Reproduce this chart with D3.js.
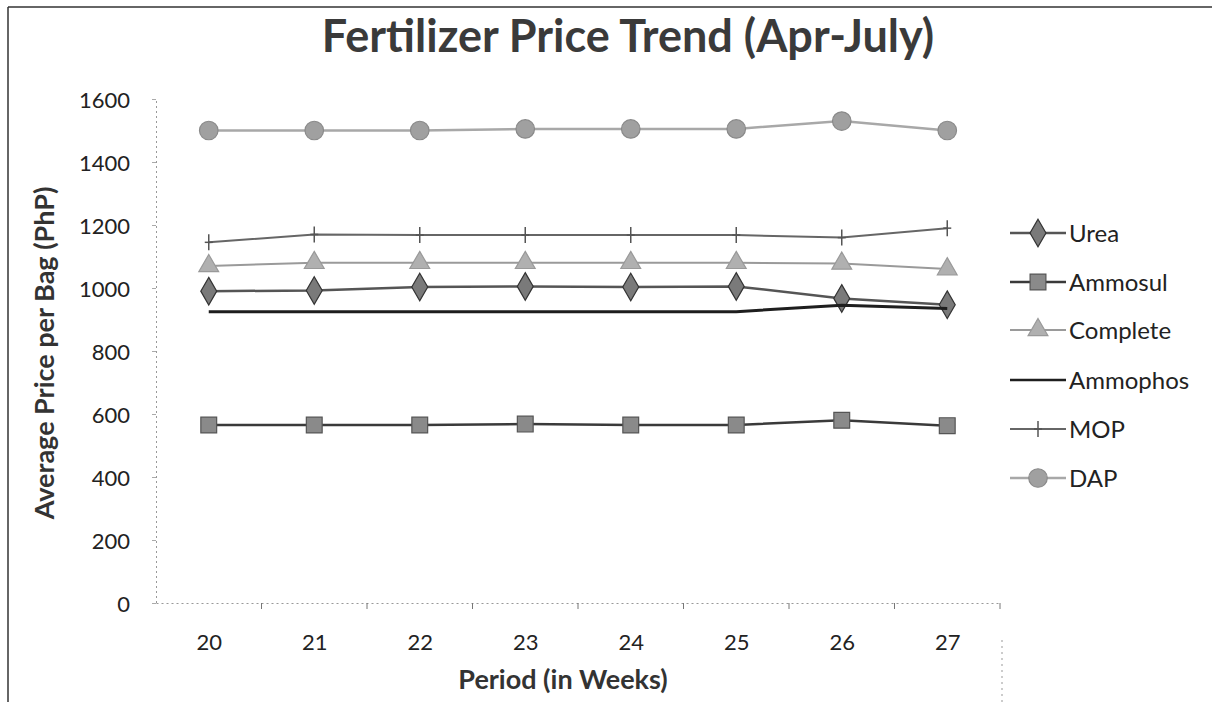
<!DOCTYPE html>
<html><head><meta charset="utf-8">
<script src="https://cdn.jsdelivr.net/npm/d3@7"></script>
<style>body{margin:0;background:#fff}svg{display:block}</style>
</head><body>
<script>
const weeks = ["20","21","22","23","24","25","26","27"];
const seriesNames = ["Urea","Ammosul","Complete","Ammophos","MOP","DAP"];
const urea     = [990, 992, 1003, 1005, 1003, 1005, 967, 947];
const ammosul  = [565, 565, 565, 568, 565, 565, 580, 563];
const complete = [1070, 1080, 1080, 1080, 1080, 1080, 1078, 1060];
const ammophos = [925, 925, 925, 925, 925, 925, 945, 935];
const mop      = [1145, 1170, 1168, 1168, 1168, 1168, 1160, 1190];
const dap      = [1500, 1500, 1500, 1505, 1505, 1505, 1530, 1500];
const yTicks   = [0, 200, 400, 600, 800, 1000, 1200, 1400, 1600];

const seriesValues = [urea, ammosul, complete, ammophos, mop, dap];
const styles = {
  Urea:     {stroke:"#555", width:2.5, marker:"diamond", fill:"#7a7a7a", mstroke:"#333", size:220},
  Ammosul:  {stroke:"#3a3a3a", width:2.5, marker:"square", fill:"#8a8a8a", mstroke:"#555", size:250},
  Complete: {stroke:"#9a9a9a", width:2, marker:"triangle", fill:"#b0b0b0", mstroke:"#999", size:170},
  Ammophos: {stroke:"#1e1e1e", width:3, marker:null},
  MOP:      {stroke:"#666", width:2, marker:"plus"},
  DAP:      {stroke:"#a8a8a8", width:2.5, marker:"circle", fill:"#a0a0a0", mstroke:"#8a8a8a", size:270}
};

const W = 1212, H = 702;
const svg = d3.select("body").append("svg").attr("width", W).attr("height", H);
const font = "Lato, 'Open Sans', sans-serif";

// frame
svg.append("line").attr("x1",8).attr("y1",7).attr("x2",W).attr("y2",7).attr("stroke","#333").attr("stroke-width",1.5);
svg.append("line").attr("x1",8).attr("y1",7).attr("x2",8).attr("y2",H).attr("stroke","#333").attr("stroke-width",1.5);
svg.append("line").attr("x1",1002).attr("y1",640).attr("x2",1002).attr("y2",H).attr("stroke","#999").attr("stroke-width",1).attr("stroke-dasharray","2,4");

const x = d3.scalePoint().domain(weeks).range([156, 1000]).padding(0.5);
const y = d3.scaleLinear().domain([0, 1600]).range([603, 99]);

// title
svg.append("text").attr("x", 628).attr("y", 52).attr("text-anchor","middle")
  .attr("font-family", font).attr("font-weight","bold").attr("font-size", 45).attr("fill","#3a3a3a")
  .text("Fertilizer Price Trend (Apr-July)");

// y axis
const yAxis = d3.axisLeft(y).tickValues(yTicks).tickSize(4).tickPadding(22).tickFormat(d3.format("d"));
const gy = svg.append("g").attr("transform","translate(156,0)").call(yAxis);
gy.select(".domain").attr("stroke","#999").attr("stroke-dasharray","2,3");
gy.selectAll(".tick line").attr("stroke","#aaa");
gy.selectAll(".tick text").attr("font-family", font).attr("font-size", 22).attr("fill","#222").attr("dy","0.4em");

// x axis
const xAxis = d3.axisBottom(x).tickSize(0).tickPadding(31);
const gx = svg.append("g").attr("transform",`translate(0,${y(0)})`).call(xAxis);
gx.select(".domain").attr("stroke","#999").attr("stroke-dasharray","2,3");
gx.selectAll(".tick text").attr("font-family", font).attr("font-size", 22).attr("fill","#222");
const step = x.step();
gx.selectAll(".bt").data(weeks).enter().append("line").attr("class","bt")
  .attr("x1", d => x(d) + step/2).attr("x2", d => x(d) + step/2)
  .attr("y1", 0).attr("y2", 6).attr("stroke","#777").attr("stroke-width",1);

// axis titles
svg.append("text").attr("x", 563).attr("y", 689).attr("text-anchor","middle")
  .attr("font-family", font).attr("font-weight","bold").attr("font-size", 27).attr("fill","#333")
  .text("Period (in Weeks)");
svg.append("text").attr("transform","translate(54,353) rotate(-90)").attr("text-anchor","middle")
  .attr("font-family", font).attr("font-weight","bold").attr("font-size", 27).attr("fill","#333")
  .text("Average Price per Bag (PhP)");

function symbolFor(st){
  if (st.marker === "diamond") return d3.symbol().type(d3.symbolDiamond).size(st.size)();
  if (st.marker === "square") return d3.symbol().type(d3.symbolSquare).size(st.size)();
  if (st.marker === "triangle") return d3.symbol().type(d3.symbolTriangle).size(st.size)();
  if (st.marker === "circle") return d3.symbol().type(d3.symbolCircle).size(st.size)();
  return null;
}
function drawMarker(g, st, cx, cy){
  if (!st.marker) return;
  if (st.marker === "plus") {
    g.append("line").attr("x1",cx).attr("x2",cx).attr("y1",cy-8).attr("y2",cy+8).attr("stroke","#555").attr("stroke-width",1.5);
    g.append("line").attr("x1",cx-4).attr("x2",cx+4).attr("y1",cy).attr("y2",cy).attr("stroke","#555").attr("stroke-width",1.5);
    return;
  }
  g.append("path").attr("d", symbolFor(st)).attr("transform",`translate(${cx},${cy})`)
    .attr("fill", st.fill).attr("stroke", st.mstroke).attr("stroke-width",1.2);
}

const line = d3.line().x((d,i) => x(weeks[i])).y(d => y(d));
const plot = svg.append("g");
seriesNames.forEach((name, si) => {
  const st = styles[name];
  const vals = seriesValues[si];
  const g = plot.append("g");
  g.append("path").attr("d", line(vals)).attr("fill","none").attr("stroke", st.stroke).attr("stroke-width", st.width);
  vals.forEach((v,i) => drawMarker(g, st, x(weeks[i]), y(v)));
});

// legend
const legendY = [233, 282, 330, 380, 429, 478];
const lg = svg.append("g");
seriesNames.forEach((name, i) => {
  const st = styles[name];
  const cy = legendY[i];
  lg.append("line").attr("x1",1010).attr("x2",1066).attr("y1",cy).attr("y2",cy).attr("stroke",st.stroke).attr("stroke-width",Math.min(st.width,2.5));
  drawMarker(lg, st, 1038, cy);
  lg.append("text").attr("x",1069).attr("y",cy).attr("dy","0.36em")
    .attr("font-family", font).attr("font-size", 24).attr("fill","#222").text(name);
});
</script>
</body></html>
